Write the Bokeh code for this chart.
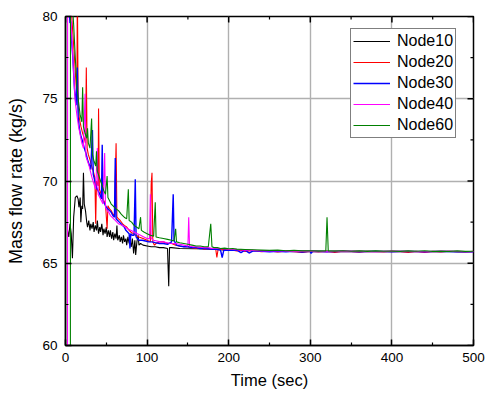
import math
from bokeh.plotting import figure
from bokeh.models import Range1d, FixedTicker, Legend, LegendItem
from bokeh.embed import file_html
from bokeh.resources import INLINE

# ---------------- data ----------------
x_ticks = [0, 100, 200, 300, 400, 500]
x_minor = [50, 150, 250, 350, 450]
y_ticks = [60, 65, 70, 75, 80]
y_minor = [62.5, 67.5, 72.5, 77.5]
x_lim = [0, 500]
y_lim = [60, 80]

names = ["Node10", "Node20", "Node30", "Node40", "Node60"]
colors = ["#000000", "#ff0000", "#0000ff", "#ff00ff", "#008000"]
widths = [1.1, 1.1, 1.4, 1.1, 1.1]

t_node10 = [2.5, 4, 5.5, 7, 8.5, 10, 12, 14, 15.5, 16.5, 18, 18.8, 20, 21, 22, 23, 24.5, 26, 27,
            28.5, 30, 31, 32.5, 34, 35, 36.5, 38, 39, 40.5, 42, 43, 44.5, 46, 47, 48.5, 50, 51,
            52.5, 54, 55, 56.5, 58, 59, 60.5, 62, 63, 64, 66, 67, 68.5, 70, 71, 72.5, 74, 75,
            76.5, 78, 79, 80.5, 82, 83.5, 85, 86, 87.5, 89, 90, 92, 95, 100, 105, 110, 115, 120,
            125, 126.5, 127.5, 130, 140, 160, 180, 200, 220, 250, 300, 400, 500]
v_node10 = [67.0, 66.6, 67.4, 66.8, 65.3, 67.8, 69.0, 69.1, 68.9, 68.4, 69.0, 67.5, 68.5, 68.3,
            70.5, 68.6, 68.2, 67.5, 67.2, 67.6, 67.0, 67.4, 67.1, 67.5, 66.9, 67.3, 67.0, 67.6,
            66.8, 67.2, 66.9, 67.4, 66.7, 67.1, 66.8, 67.2, 66.6, 67.0, 66.6, 67.0, 66.5, 66.9,
            66.4, 66.8, 66.5, 67.3, 66.4, 66.7, 66.3, 66.6, 66.2, 66.7, 66.3, 66.5, 66.1, 66.6,
            66.2, 66.4, 66.0, 66.5, 65.6, 66.4, 65.5, 66.3, 66.7, 66.1, 66.2, 66.1, 66.05, 66.0,
            66.0, 65.95, 65.95, 65.9, 63.6, 65.95, 65.95, 65.9, 65.88, 65.85, 65.8, 65.78, 65.76,
            65.74, 65.72, 65.7]

t_node20 = [1, 4, 7, 9, 11, 13, 14, 14.5, 15.5, 17, 19, 21, 23, 24.5, 25.5, 26.5, 28, 30, 32,
            34, 36, 37, 38, 40, 40.5, 41.5, 43, 45, 47, 49, 51, 52, 54, 56, 58, 60, 62, 63, 65,
            67, 70, 72, 75, 78, 80, 83, 86, 90, 95, 100, 104, 105, 106, 107, 109, 111, 115, 120,
            125, 130, 135, 140, 145, 150, 155, 160, 165, 170, 175, 180, 184, 185.5, 187, 190,
            195, 200, 205, 210, 215, 220, 230, 240, 250, 260, 270, 280, 290, 300, 310, 320, 330,
            340, 350, 360, 370, 380, 390, 400, 410, 420, 430, 440, 450, 460, 470, 480, 490, 500]
v_node20 = [83.0, 81.5, 80.5, 79.0, 77.5, 75.8, 75.2, 82.0, 74.6, 73.8, 73.3, 72.9, 72.6, 72.3,
            76.9, 72.0, 71.6, 71.3, 70.9, 70.6, 70.2, 67.4, 70.0, 69.7, 74.4, 69.5, 69.3, 69.0,
            68.8, 68.6, 67.1, 68.5, 68.3, 68.2, 68.0, 67.9, 72.3, 67.8, 67.7, 67.6, 67.4, 67.3,
            67.2, 67.0, 66.9, 66.8, 66.7, 66.6, 66.5, 66.4, 66.3, 69.8, 70.5, 66.3, 66.1, 66.2,
            66.3, 66.3, 66.2, 66.2, 66.1, 66.05, 66.0, 66.0, 65.95, 65.9, 65.95, 65.85, 65.9,
            65.85, 65.9, 65.35, 65.85, 65.85, 65.8, 65.82, 65.8, 65.75, 65.8, 65.72, 65.78, 65.7,
            65.75, 65.68, 65.73, 65.7, 65.65, 65.72, 65.68, 65.72, 65.66, 65.72, 65.7, 65.67,
            65.72, 65.7, 65.68, 65.72, 65.7, 65.66, 65.72, 65.65, 65.72, 65.68, 65.73, 65.7,
            65.68, 65.72]

t_node30 = [1, 4, 5.5, 6.5, 7.5, 9, 11, 13, 14.5, 15.5, 17, 19, 21, 23, 25, 27, 29, 31, 33, 34,
            36, 38, 40, 42, 44, 45, 46, 48, 50, 52, 54, 56, 58, 60, 61, 62, 64, 66, 68, 70, 72,
            74, 76, 78, 79, 80, 82, 84, 85.5, 86.5, 88, 90, 94, 98, 102, 106, 110, 115, 120,
            125, 130, 132, 133, 136, 140, 145, 150, 155, 160, 165, 170, 175, 180, 185, 190, 192,
            194, 200, 210, 215, 220, 225, 230, 240, 250, 260, 270, 280, 290, 300, 301, 303, 320,
            340, 360, 380, 400, 420, 440, 460, 480, 500]
v_node30 = [83.0, 81.0, 79.6, 79.7, 78.5, 77.5, 75.6, 74.6, 76.9, 73.9, 73.2, 72.7, 72.4, 72.0,
            71.7, 71.3, 71.0, 70.7, 73.1, 70.4, 70.0, 69.6, 69.4, 69.2, 68.9, 72.2, 68.8, 68.6,
            68.4, 68.3, 68.2, 68.1, 67.9, 67.8, 71.4, 67.7, 67.6, 67.5, 67.4, 67.3, 67.2, 67.0,
            66.9, 66.8, 65.9, 66.8, 66.7, 66.7, 70.1, 66.6, 66.5, 66.4, 66.4, 66.35, 66.3, 66.3,
            66.25, 66.2, 66.2, 66.15, 66.3, 69.2, 66.4, 66.1, 66.05, 66.0, 66.0, 65.95, 65.95,
            65.9, 65.9, 65.88, 65.85, 65.85, 65.8, 65.35, 65.8, 65.78, 65.8, 65.65, 65.8, 65.62,
            65.75, 65.72, 65.7, 65.72, 65.7, 65.72, 65.68, 65.72, 65.6, 65.72, 65.7, 65.72, 65.7,
            65.72, 65.7, 65.72, 65.7, 65.72, 65.7, 65.7]

t_node40 = [2.5, 2.6, 5, 7, 8.5, 10, 12, 14, 16, 18, 20, 22, 24, 25, 27, 29, 31, 33, 35, 37, 39,
            40, 42, 44, 46, 48, 49, 51, 53, 55, 57, 59, 61, 63, 65, 67, 70, 73, 76, 80, 84, 88,
            92, 96, 100, 103, 104, 105, 108, 112, 116, 120, 125, 130, 135, 140, 145, 150, 151,
            152, 156, 160, 165, 170, 175, 180, 185, 190, 195, 200, 210, 220, 230, 240, 260, 280,
            300, 320, 340, 360, 380, 400, 420, 440, 460, 480, 500]
v_node40 = [60.0, 82.0, 81.0, 79.5, 78.0, 76.5, 74.8, 74.0, 73.3, 72.8, 72.3, 72.0, 75.3, 71.5,
            71.2, 70.9, 70.5, 70.1, 69.8, 69.5, 72.0, 69.2, 69.0, 68.8, 68.6, 71.7, 68.4, 68.2,
            68.1, 67.9, 67.8, 67.7, 67.6, 67.5, 67.4, 67.35, 67.3, 67.2, 67.1, 67.0, 66.9, 66.8,
            66.7, 66.6, 66.5, 66.5, 69.2, 66.5, 66.4, 66.35, 66.3, 66.3, 66.25, 66.2, 66.2, 66.15,
            66.1, 66.05, 67.8, 66.05, 66.0, 66.0, 65.98, 65.95, 65.95, 65.9, 65.92, 65.88, 65.9,
            65.85, 65.82, 65.8, 65.78, 65.75, 65.76, 65.72, 65.74, 65.7, 65.74, 65.72, 65.7,
            65.74, 65.72, 65.7, 65.74, 65.72, 65.7]

t_node60 = [6, 6.1, 8, 10, 12, 14, 16, 18, 20, 21, 22, 24, 26, 27, 28, 30, 32, 33, 35, 37, 38,
            39, 41, 43, 45, 47, 49, 51, 52, 54, 56, 58, 60, 62, 65, 68, 70, 72, 75, 77, 78, 81,
            84, 87, 90, 92, 93, 96, 100, 104, 108, 110, 111, 115, 120, 125, 130, 133, 135, 136,
            140, 145, 150, 155, 160, 165, 170, 175, 178, 179.5, 182, 186, 190, 195, 200, 205,
            210, 220, 230, 240, 250, 260, 270, 280, 290, 300, 310, 319, 320.5, 322, 330, 340,
            350, 360, 370, 380, 390, 400, 410, 420, 430, 440, 450, 460, 470, 480, 490, 500]
v_node60 = [60.0, 82.0, 81.0, 79.5, 77.5, 75.8, 74.8, 74.0, 73.6, 75.7, 73.3, 72.9, 72.6, 73.2,
            72.3, 72.0, 73.8, 71.6, 71.2, 70.9, 71.8, 70.6, 70.3, 70.0, 69.7, 69.4, 69.2, 70.3,
            69.0, 68.8, 68.6, 68.5, 68.4, 68.3, 68.2, 68.0, 67.9, 67.8, 67.7, 69.5, 67.6, 67.5,
            67.3, 67.2, 67.1, 67.8, 67.0, 66.9, 66.8, 66.7, 66.65, 68.7, 66.6, 66.55, 66.5,
            66.45, 66.4, 66.35, 67.1, 66.3, 66.25, 66.2, 66.15, 66.1, 66.05, 66.05, 66.0, 66.0,
            67.4, 66.0, 65.95, 65.95, 65.9, 65.92, 65.88, 65.9, 65.86, 65.84, 65.82, 65.8,
            65.78, 65.8, 65.76, 65.78, 65.75, 65.76, 65.74, 65.75, 67.8, 65.75, 65.74, 65.76,
            65.73, 65.75, 65.72, 65.75, 65.73, 65.74, 65.72, 65.75, 65.73, 65.76, 65.72, 65.74,
            65.72, 65.75, 65.72, 65.73]

series_t = [t_node10, t_node20, t_node30, t_node40, t_node60]
series_v = [v_node10, v_node20, v_node30, v_node40, v_node60]

# ---------------- figure ----------------
FONT = "Liberation Sans"
p = figure(width=485, height=396, output_backend="svg", toolbar_location=None,
           x_range=Range1d(*x_lim), y_range=Range1d(*y_lim),
           min_border_left=65, min_border_right=12, min_border_top=16, min_border_bottom=51,
           background_fill_color="white", border_fill_color="white")
p.outline_line_color = "black"
p.outline_line_width = 1.5

xt = FixedTicker(ticks=x_ticks, minor_ticks=x_minor)
yt = FixedTicker(ticks=y_ticks, minor_ticks=y_minor)

renderers = []
for t, v, c, w in zip(series_t, series_v, colors, widths):
    r = p.line(t, v, line_color=c, line_width=w)
    renderers.append(r)

# grid
p.xgrid.ticker = xt
p.ygrid.ticker = yt
for g in (p.xgrid, p.ygrid):
    g.grid_line_color = "#b0b0b0"
    g.grid_line_width = 1.4
    g.level = "underlay"

def style_axis(ax):
    ax.axis_line_color = "black"
    ax.axis_line_width = 1.5
    ax.major_tick_in = 6
    ax.major_tick_out = 0
    ax.minor_tick_in = 3
    ax.minor_tick_out = 0
    ax.major_tick_line_color = "black"
    ax.minor_tick_line_color = "black"
    ax.major_tick_line_width = 1.5
    ax.minor_tick_line_width = 1.2
    ax.major_label_text_font = FONT
    ax.major_label_text_font_size = "13.5px"
    ax.major_label_text_color = "black"
    ax.axis_label_text_font = FONT
    ax.axis_label_text_font_style = "normal"
    ax.axis_label_text_color = "black"

xa = p.xaxis[0]
xa.ticker = xt
xa.axis_label = "Time (sec)"
style_axis(xa)
xa.axis_label_text_font_size = "16.5px"
xa.major_label_standoff = 7
xa.axis_label_standoff = 6

ya = p.yaxis[0]
ya.ticker = yt
ya.axis_label = "Mass flow rate (kg/s)"
style_axis(ya)
ya.axis_label_text_font_size = "18px"
ya.major_label_standoff = 8
ya.axis_label_standoff = 13

# inward ticks on the top and right frame edges (the outer half of each dash is clipped)
p.scatter(x_ticks, [y_lim[1]] * len(x_ticks), marker="dash", angle=math.pi / 2, size=12,
          line_color="black", line_width=1.5)
p.scatter(x_minor, [y_lim[1]] * len(x_minor), marker="dash", angle=math.pi / 2, size=6,
          line_color="black", line_width=1.2)
p.scatter([x_lim[1]] * len(y_ticks), y_ticks, marker="dash", size=12,
          line_color="black", line_width=1.5)
p.scatter([x_lim[1]] * len(y_minor), y_minor, marker="dash", size=6,
          line_color="black", line_width=1.2)

legend = Legend(items=[LegendItem(label=n, renderers=[r]) for n, r in zip(names, renderers)],
                location=(285, 207))
legend.label_text_font = FONT
legend.label_text_font_size = "16px"
legend.label_text_color = "black"
legend.glyph_width = 37
legend.glyph_height = 20
legend.label_height = 20
legend.label_standoff = 7
legend.spacing = 1
legend.padding = 2
legend.margin = 0
legend.border_line_color = "black"
legend.border_line_width = 1
legend.background_fill_color = "white"
legend.background_fill_alpha = 1
p.add_layout(legend)

open("out.html", "w").write(file_html(p, INLINE))
